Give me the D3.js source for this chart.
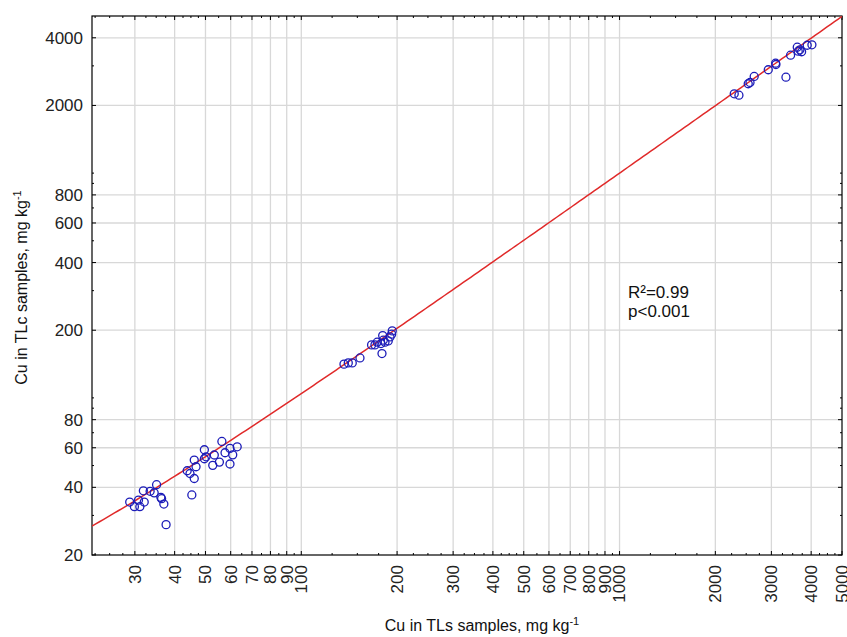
<!DOCTYPE html>
<html>
<head>
<meta charset="utf-8">
<script src="https://cdn.jsdelivr.net/npm/d3@7"></script>
<style>
  body { margin: 0; background: #fff; }
  svg { display: block; font-family: "Liberation Sans", Arial, sans-serif; }
</style>
</head>
<body>
<svg id="chart"></svg>
<script>
// Cu in TLs samples (x) and TLc samples (y), mg/kg
const tlsValues = [
  28.9, 29.9, 30.8, 31.1, 32.1, 31.9, 33.5, 34.5, 35.1, 36.2, 36.4, 37.0, 37.6,
  43.8, 44.7, 45.3, 46.1, 46.1, 46.7, 49.6, 49.6, 50.2, 52.7, 53.3, 55.3, 56.3, 57.6, 59.7, 59.7, 60.9, 62.9,
  136.2, 140.5, 144.6, 152.9, 166.3, 170.4, 173.2, 178.0, 180.2, 181.0, 183.2, 187.6, 190.0, 193.1, 192.3, 179.3,
  2293, 2372, 2537, 2570, 2649, 2933, 3093, 3100, 3333, 3447, 3617, 3643, 3687, 3733, 3887, 4022
];
const tlcValues = [
  34.4, 32.8, 35.1, 32.8, 34.4, 38.6, 38.4, 37.8, 41.1, 36.1, 35.6, 33.7, 27.3,
  47.4, 46.1, 37.0, 43.8, 52.9, 49.4, 58.8, 53.6, 54.7, 50.1, 55.7, 51.8, 64.0, 57.0, 59.6, 50.8, 55.8, 60.6,
  141.3, 143.1, 143.1, 150.6, 172.1, 172.1, 176.9, 174.5, 189.4, 180.6, 176.9, 179.2, 186.8, 198.6, 192.0, 157.5,
  2254, 2222, 2498, 2532, 2692, 2883, 3084, 3042, 2672, 3346, 3632, 3486, 3537, 3466, 3706, 3722
];

// linear fit y = a + b*x
const fitIntercept = 5;
const fitSlope = 0.995;
const statLines = ["R²=0.99", "p<0.001"];

const xTickLabels = [30, 40, 50, 60, 70, 80, 90, 100, 200, 300, 400, 500, 600, 700, 800, 900, 1000, 2000, 3000, 4000, 5000];
const xMinorTicks = [22.5, 25, 27.5, 32.5, 35, 37.5, 42.5, 45, 47.5, 55, 65, 75, 85, 95,
  125, 150, 175, 225, 250, 275, 325, 350, 375, 425, 450, 475, 550, 650, 750, 850, 950,
  1250, 1500, 1750, 2250, 2500, 2750, 3250, 3500, 3750, 4250, 4500, 4750];
const yTickLabels = [20, 40, 60, 80, 200, 400, 600, 800, 2000, 4000];
const yMinorTicks = [30, 50, 70, 90, 100, 300, 500, 700, 900, 1000, 3000];

const width = 847, height = 637;
const margin = { top: 16, right: 5, bottom: 82, left: 92 };

const svg = d3.select("#chart")
  .attr("width", width)
  .attr("height", height);

svg.append("rect").attr("width", width).attr("height", height).attr("fill", "#fff");

const x = d3.scaleLog().domain([22, 5000]).range([margin.left, width - margin.right]);
const y = d3.scaleLog().domain([20, 5000]).range([height - margin.bottom, margin.top]);

const [x0, x1] = x.range();
const [y0, y1] = y.range();

// grid
svg.append("g")
  .selectAll("line")
  .data(xTickLabels.filter(d => d < 5000))
  .join("line")
  .attr("x1", d => x(d)).attr("x2", d => x(d))
  .attr("y1", y1).attr("y2", y0)
  .attr("stroke", "#d8d8d8").attr("stroke-width", 1.3);

svg.append("g")
  .selectAll("line")
  .data(yTickLabels.filter(d => d > 20))
  .join("line")
  .attr("x1", x0).attr("x2", x1)
  .attr("y1", d => y(d)).attr("y2", d => y(d))
  .attr("stroke", "#d8d8d8").attr("stroke-width", 1.3);

// ticks on all four sides, pointing inwards
const tickGroup = svg.append("g").attr("stroke", "#000").attr("stroke-width", 1);
function xTicks(vals, len) {
  vals.forEach(v => {
    tickGroup.append("line").attr("x1", x(v)).attr("x2", x(v)).attr("y1", y0).attr("y2", y0 - len);
    tickGroup.append("line").attr("x1", x(v)).attr("x2", x(v)).attr("y1", y1).attr("y2", y1 + len);
  });
}
function yTicks(vals, len) {
  vals.forEach(v => {
    tickGroup.append("line").attr("y1", y(v)).attr("y2", y(v)).attr("x1", x0).attr("x2", x0 + len);
    tickGroup.append("line").attr("y1", y(v)).attr("y2", y(v)).attr("x1", x1).attr("x2", x1 - len);
  });
}
xTicks(xTickLabels, 4);
xTicks(xMinorTicks, 2);
yTicks(yTickLabels, 4);
yTicks(yMinorTicks, 2);

// frame
svg.append("rect")
  .attr("x", x0).attr("y", y1)
  .attr("width", x1 - x0).attr("height", y0 - y1)
  .attr("fill", "none").attr("stroke", "#000").attr("stroke-width", 1.2);

// tick labels
svg.append("g")
  .selectAll("text")
  .data(xTickLabels)
  .join("text")
  .attr("transform", d => `translate(${x(d)},${y0 + 10}) rotate(-90)`)
  .attr("text-anchor", "end")
  .attr("dy", "0.35em")
  .attr("font-size", 17)
  .attr("fill", "#222")
  .text(d => d);

svg.append("g")
  .selectAll("text")
  .data(yTickLabels)
  .join("text")
  .attr("x", x0 - 9)
  .attr("y", d => y(d))
  .attr("text-anchor", "end")
  .attr("dy", "0.35em")
  .attr("font-size", 17)
  .attr("fill", "#222")
  .text(d => d);

// regression line, clipped to the plot
svg.append("clipPath").attr("id", "plot-clip")
  .append("rect")
  .attr("x", x0).attr("y", y1)
  .attr("width", x1 - x0).attr("height", y0 - y1);

const fitXs = d3.range(0, 201).map(i => 22 * Math.pow(5000 / 22, i / 200));
const line = d3.line()
  .x(d => x(d))
  .y(d => y(fitIntercept + fitSlope * d));

svg.append("path")
  .datum(fitXs)
  .attr("clip-path", "url(#plot-clip)")
  .attr("d", line)
  .attr("fill", "none")
  .attr("stroke", "#e02a2a")
  .attr("stroke-width", 1.5);

// points
svg.append("g")
  .selectAll("circle")
  .data(tlsValues.map((v, i) => [v, tlcValues[i]]))
  .join("circle")
  .attr("cx", d => x(d[0]))
  .attr("cy", d => y(d[1]))
  .attr("r", 4)
  .attr("fill", "none")
  .attr("stroke", "#1c1cb8")
  .attr("stroke-width", 1.3);

// stats text
svg.append("g")
  .selectAll("text")
  .data(statLines)
  .join("text")
  .attr("x", 628)
  .attr("y", (d, i) => 298 + i * 19)
  .attr("font-size", 17)
  .attr("fill", "#111")
  .text(d => d);

// axis titles
const xTitle = svg.append("text")
  .attr("x", 482)
  .attr("y", 631)
  .attr("text-anchor", "middle")
  .attr("font-size", 16)
  .attr("fill", "#111");
xTitle.append("tspan").text("Cu in TLs samples, mg kg");
xTitle.append("tspan").attr("dy", -6).attr("font-size", 11).text("-1");

const yTitle = svg.append("text")
  .attr("transform", `translate(27,${(y0 + y1) / 2 + 2}) rotate(-90)`)
  .attr("text-anchor", "middle")
  .attr("font-size", 16)
  .attr("fill", "#111");
yTitle.append("tspan").text("Cu in TLc samples, mg kg");
yTitle.append("tspan").attr("dy", -6).attr("font-size", 11).text("-1");
</script>
</body>
</html>
